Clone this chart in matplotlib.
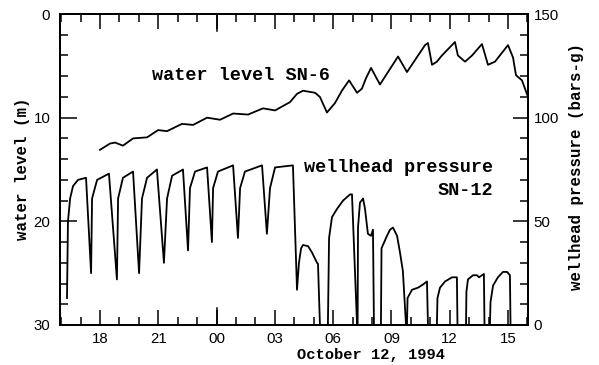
import matplotlib
matplotlib.use("Agg")
from matplotlib import pyplot as plt
from matplotlib.ticker import MultipleLocator

# time in hours since Oct 11 00:00
wl_hours = [18.0, 18.51, 18.77, 19.18, 19.70, 20.42, 20.99, 21.45, 22.22, 22.79,
            23.51, 24.18, 24.85, 25.62, 26.39, 27.01, 27.78, 28.14, 28.45, 29.07,
            29.32, 29.68, 30.09, 30.45, 30.82, 31.23, 31.48, 31.69, 31.95, 32.41,
            33.34, 33.80, 34.73, 34.88, 35.09, 35.34, 35.60, 36.27, 36.42, 36.79,
            37.15, 37.66, 37.97, 38.33, 39.0, 39.26, 39.41, 39.72, 40.03]
water_level = [13.1, 12.5, 12.4, 12.7, 12.0, 11.9, 11.2, 11.3, 10.6, 10.7,
               10.0, 10.2, 9.6, 9.7, 9.1, 9.3, 8.5, 7.7, 7.4, 7.6,
               8.0, 9.5, 8.6, 7.4, 6.4, 7.6, 7.2, 6.2, 5.2, 6.8,
               4.1, 5.6, 3.0, 2.8, 4.9, 4.6, 4.0, 2.7, 4.0, 4.6,
               4.0, 2.9, 4.9, 4.6, 3.0, 4.2, 5.9, 6.4, 8.0]

wp_hours = [16.30, 16.35, 16.46, 16.61, 16.87, 17.28, 17.54, 17.59, 17.85, 18.46,
            18.87, 18.93, 19.18, 19.70, 20.01, 20.16, 20.42, 20.93, 21.29, 21.45,
            21.71, 22.27, 22.53, 22.63, 22.89, 23.51, 23.76, 23.82, 24.07, 24.85,
            25.10, 25.21, 25.46, 26.34, 26.59, 26.75, 27.01, 27.93, 28.14, 28.24,
            28.35, 28.45, 28.71, 28.91, 29.17, 29.22, 29.32, 29.73, 29.79, 29.94,
            30.20, 30.51, 30.87, 30.97, 31.23, 31.26, 31.28, 31.38, 31.54, 31.64,
            31.79, 31.95, 32.05, 32.10, 32.46, 32.49, 32.77, 32.93, 33.08, 33.29,
            33.44, 33.59, 33.75, 33.80, 33.83, 34.06, 34.37, 34.62, 34.83, 34.88,
            35.34, 35.37, 35.50, 35.76, 36.12, 36.37, 36.40, 36.84, 36.86, 36.94,
            37.20, 37.40, 37.51, 37.66, 37.76, 37.79, 38.07, 38.10, 38.23, 38.48,
            38.74, 38.95, 39.10, 39.13, 40.03]
wellhead_pressure = [13, 50, 61, 67, 70, 71, 25, 61, 70, 73,
                     22, 61, 71, 74, 25, 61, 71, 75, 30, 61,
                     72, 75, 36, 66, 74, 76, 40, 66, 74, 77,
                     42, 66, 74, 77, 44, 66, 76, 77, 17, 30,
                     37, 38.6, 38, 35, 30, 29.5, 0, 0, 42, 52,
                     56, 60, 63, 63, 0, 0, 47, 59, 61, 56,
                     44, 43, 46, 0, 0, 37, 43, 46, 47, 43,
                     35, 26, 0, 0, 13, 17, 18, 19.5, 21, 0,
                     0, 13, 18, 21, 23, 23, 0, 0, 16, 22,
                     24, 24, 23, 24, 24.6, 0, 0, 11, 19, 23,
                     25.6, 25.6, 24, 0, 0]

x_tick_pos = [18, 21, 24, 27, 30, 33, 36, 39]
x_tick_labels = ["18", "21", "00", "03", "06", "09", "12", "15"]
midnight = 24

mono = "Liberation Mono"
sans = "Liberation Sans"

fig = plt.figure(figsize=(5.99, 3.65), dpi=100)
ax = fig.add_axes([60 / 599, 40 / 365, 468 / 599, 311 / 365])
ax2 = ax.twinx()

ax.plot(wl_hours, water_level, color="black", lw=1.3)
ax2.plot(wp_hours, wellhead_pressure, color="black", lw=1.3, clip_on=False)

ax.set_xlim(15.94, 40.03)
ax.set_ylim(30, 0)
ax2.set_ylim(0, 150)

ax.set_xticks(x_tick_pos)
ax.set_xticklabels(x_tick_labels, fontfamily=sans, fontsize=10.8)
ax.xaxis.set_minor_locator(MultipleLocator(1))
ax.yaxis.set_major_locator(MultipleLocator(10))
ax.yaxis.set_minor_locator(MultipleLocator(2))
ax2.yaxis.set_major_locator(MultipleLocator(50))
ax2.yaxis.set_minor_locator(MultipleLocator(10))
for lab in ax.get_yticklabels() + ax2.get_yticklabels():
    lab.set_fontfamily(sans)
    lab.set_fontsize(10.8)

ax.tick_params(axis="x", which="both", direction="in", top=True, width=1.1, color="black")
ax.tick_params(axis="x", which="major", length=11, pad=5)
ax.tick_params(axis="x", which="minor", length=6)
ax.tick_params(axis="y", which="both", direction="in", right=False, width=1.1, color="black")
ax.tick_params(axis="y", which="major", length=12, pad=7)
ax.tick_params(axis="y", which="minor", length=6)
ax2.tick_params(axis="y", which="both", direction="in", width=1.1, color="black")
ax2.tick_params(axis="y", which="major", length=11, pad=4)
ax2.tick_params(axis="y", which="minor", length=6)

# longer tick at midnight, top and bottom
ax.axvline(midnight, ymin=0, ymax=17 / 311, color="black", lw=1.1)
ax.axvline(midnight, ymin=1 - 17 / 311, ymax=1, color="black", lw=1.1)

for a in (ax, ax2):
    for s in a.spines.values():
        s.set_linewidth(1.4)

ax.text(20.68, 5.9, "water level SN-6", fontfamily=mono, fontweight="bold",
        fontsize=13.3, ha="left", va="center")
ax.text(38.23, 14.85, "wellhead pressure", fontfamily=mono, fontweight="bold",
        fontsize=13.3, ha="right", va="center")
ax.text(38.23, 17.0, "SN-12", fontfamily=mono, fontweight="bold",
        fontsize=13.3, ha="right", va="center")

fig.text(23 / 599, 1 - 169 / 365, "water level (m)", rotation=90, fontfamily=mono,
         fontweight="bold", fontsize=11.3, ha="center", va="center")
fig.text(577 / 599, 1 - 166 / 365, "wellhead pressure (bars-g)", rotation=90,
         fontfamily=mono, fontweight="bold", fontsize=11.3, ha="center", va="center")
fig.text(371 / 599, 1 - 355 / 365, "October 12, 1994", fontfamily=mono,
         fontweight="bold", fontsize=11.1, ha="center", va="center")

fig.savefig("out.png", dpi=100)
